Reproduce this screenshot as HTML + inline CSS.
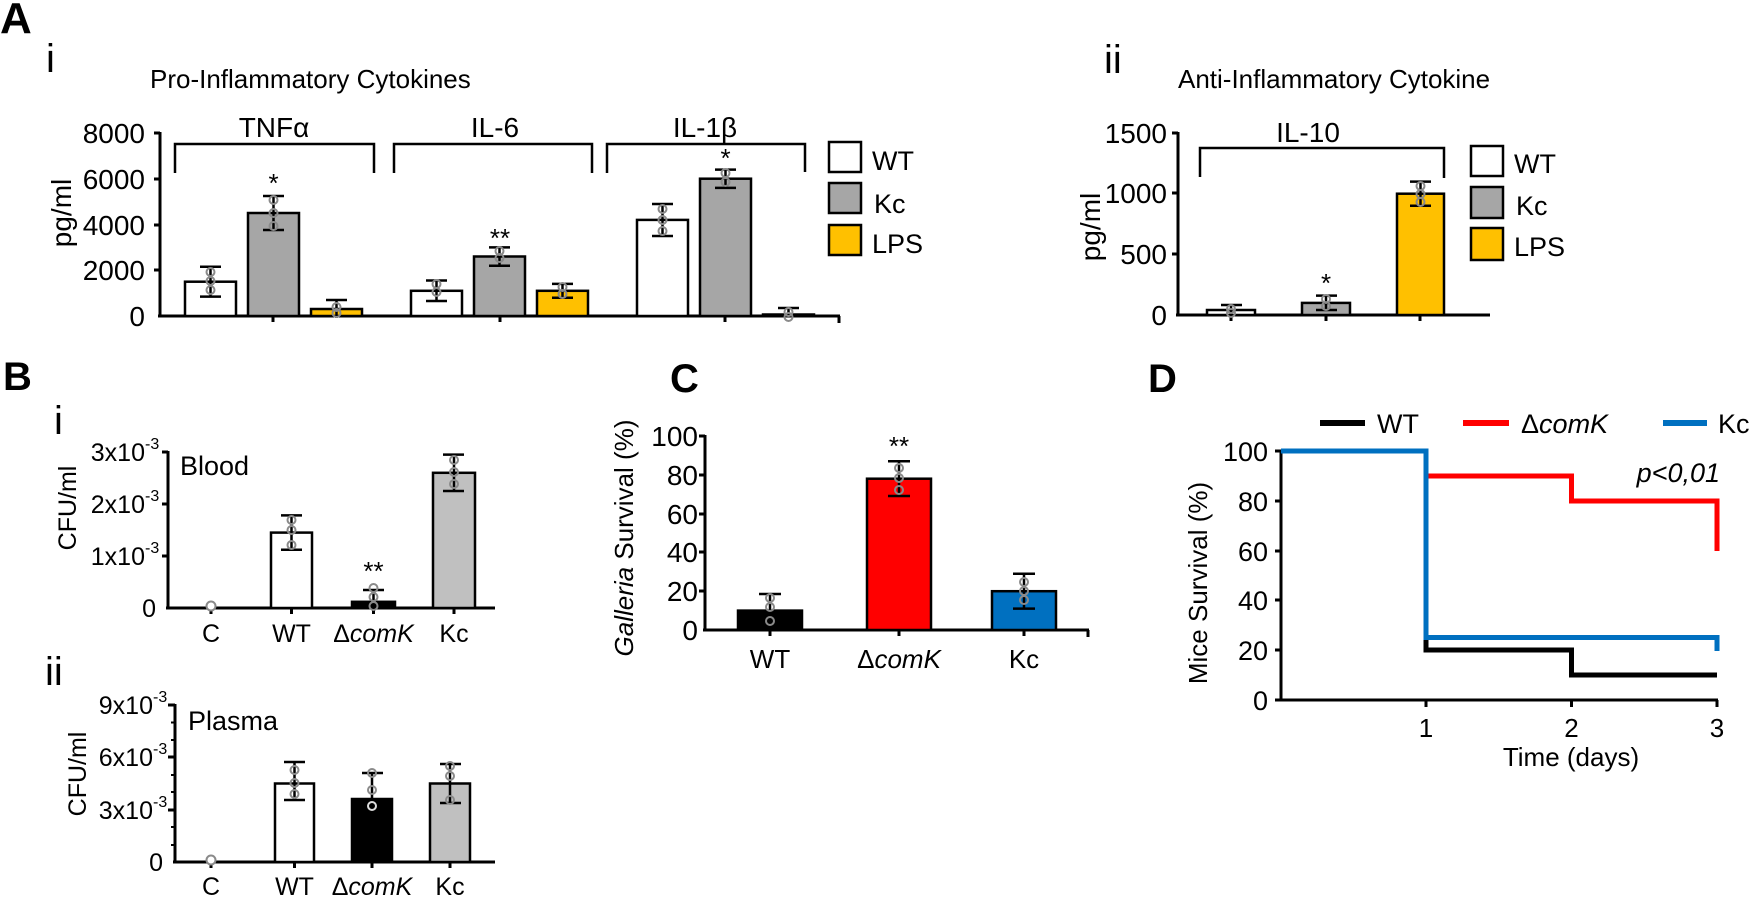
<!DOCTYPE html>
<html><head><meta charset="utf-8"><style>
html,body{margin:0;padding:0;background:#fff}
svg{display:block}
text{font-family:"Liberation Sans",Arial,sans-serif;fill:#000}
</style></head><body>
<svg width="1750" height="898" viewBox="0 0 1750 898" xmlns="http://www.w3.org/2000/svg">
<!-- ===== Panel A i ===== -->
<text x="0" y="33" font-size="44" font-weight="bold">A</text>
<text x="46" y="72" font-size="40">i</text>
<text x="150" y="88" font-size="26">Pro-Inflammatory Cytokines</text>
<g stroke="#000" stroke-width="3" fill="none">
<line x1="160" y1="132" x2="160" y2="317"/>
<line x1="158" y1="316" x2="840" y2="316"/>
<line x1="154" y1="133" x2="160" y2="133"/><line x1="154" y1="179" x2="160" y2="179"/><line x1="154" y1="225" x2="160" y2="225"/><line x1="154" y1="270" x2="160" y2="270"/>
<line x1="273" y1="316" x2="273" y2="322"/><line x1="500" y1="316" x2="500" y2="322"/><line x1="725" y1="316" x2="725" y2="322"/><line x1="839" y1="316" x2="839" y2="323"/>
</g>
<g font-size="28" text-anchor="end">
<text x="145" y="143">8000</text><text x="145" y="189">6000</text><text x="145" y="235">4000</text><text x="145" y="280">2000</text><text x="145" y="326">0</text>
</g>
<text transform="translate(71,213) rotate(-90)" font-size="28" text-anchor="middle">pg/ml</text>
<!-- brackets -->
<g stroke="#000" stroke-width="2.5" fill="none">
<polyline points="175,173 175,144 374,144 374,173"/>
<polyline points="394,173 394,144 592,144 592,173"/>
<polyline points="607,173 607,144 805,144 805,172"/>
</g>
<g font-size="28" text-anchor="middle">
<text x="274" y="137">TNFα</text><text x="495" y="137">IL-6</text><text x="705" y="137">IL-1β</text>
</g>
<!-- bars -->
<g stroke="#000" stroke-width="2.5">
<rect x="185" y="281.7" width="51" height="34.3" fill="#fff"/>
<rect x="248" y="213" width="51" height="103" fill="#a6a6a6"/>
<rect x="311" y="309" width="51" height="7" fill="#ffc000"/>
<rect x="411" y="290.8" width="51" height="25.2" fill="#fff"/>
<rect x="474" y="256.5" width="51" height="59.5" fill="#a6a6a6"/>
<rect x="537" y="290.8" width="51" height="25.2" fill="#ffc000"/>
<rect x="637" y="219.9" width="51" height="96.1" fill="#fff"/>
<rect x="700" y="178.7" width="51" height="137.3" fill="#a6a6a6"/>
<rect x="763" y="314.5" width="51" height="1.5" fill="#ffc000"/>
</g>
<!-- error bars -->
<g stroke="#000" stroke-width="2.5" fill="none">
<path d="M210.5 266.8V296.6M200 266.8h21M200 296.6h21"/>
<path d="M273.5 196V230M263 196h21M263 230h21"/>
<path d="M336.5 300V318M326 300h21"/>
<path d="M436.5 280.5V301M426 280.5h21M426 301h21"/>
<path d="M499.5 247.4V265.7M489 247.4h21M489 265.7h21"/>
<path d="M562.5 283.9V297.7M552 283.9h21M552 297.7h21"/>
<path d="M662.5 204V236M652 204h21M652 236h21"/>
<path d="M725.5 169.6V187.9M715 169.6h21M715 187.9h21"/>
<path d="M788.5 308V316M778 308h21"/>
</g>
<g stroke="#8a8a8a" stroke-width="2" fill="none">
<circle cx="210.5" cy="272" r="4"/><circle cx="210.5" cy="281" r="4"/><circle cx="210.5" cy="290" r="4"/>
<circle cx="273.5" cy="200" r="4"/><circle cx="273.5" cy="213" r="4"/><circle cx="273.5" cy="226" r="4"/>
<circle cx="336.5" cy="307" r="4"/><circle cx="336.5" cy="313" r="4"/>
<circle cx="436.5" cy="284" r="4"/><circle cx="436.5" cy="292" r="4"/>
<circle cx="499.5" cy="251" r="4"/><circle cx="499.5" cy="258" r="4"/>
<circle cx="562.5" cy="287" r="4"/><circle cx="562.5" cy="294" r="4"/>
<circle cx="662.5" cy="209" r="4"/><circle cx="662.5" cy="220" r="4"/><circle cx="662.5" cy="231" r="4"/>
<circle cx="725.5" cy="173" r="4"/><circle cx="725.5" cy="182" r="4"/>
<circle cx="788.5" cy="312" r="4"/><circle cx="788.5" cy="317" r="4"/>
</g>
<g font-size="26" text-anchor="middle">
<text x="273.5" y="192">*</text><text x="500" y="247">**</text><text x="725.5" y="167">*</text>
</g>
<!-- legend A i -->
<g stroke="#000" stroke-width="2.5">
<rect x="829" y="142" width="32" height="30" fill="#fff"/>
<rect x="829" y="183" width="32" height="30" fill="#a6a6a6"/>
<rect x="829" y="225" width="32" height="30" fill="#ffc000"/>
</g>
<g font-size="27"><text x="872" y="170">WT</text><text x="874" y="213">Kc</text><text x="872" y="253">LPS</text></g>

<!-- ===== Panel A ii ===== -->
<text x="1104" y="73" font-size="40">ii</text>
<text x="1178" y="88" font-size="26">Anti-Inflammatory Cytokine</text>
<g stroke="#000" stroke-width="3" fill="none">
<line x1="1178" y1="132" x2="1178" y2="316"/>
<line x1="1176" y1="315" x2="1490" y2="315"/>
<line x1="1172" y1="133" x2="1178" y2="133"/><line x1="1172" y1="193" x2="1178" y2="193"/><line x1="1172" y1="254" x2="1178" y2="254"/>
<line x1="1231" y1="315" x2="1231" y2="321"/><line x1="1326" y1="315" x2="1326" y2="321"/><line x1="1420" y1="315" x2="1420" y2="321"/>
</g>
<g font-size="28" text-anchor="end">
<text x="1167" y="143">1500</text><text x="1167" y="203">1000</text><text x="1167" y="264">500</text><text x="1167" y="325">0</text>
</g>
<text transform="translate(1100,227) rotate(-90)" font-size="28" text-anchor="middle">pg/ml</text>
<polyline points="1200,177 1200,148 1444,148 1444,178" stroke="#000" stroke-width="2.5" fill="none"/>
<text x="1308" y="142" font-size="28" text-anchor="middle">IL-10</text>
<g stroke="#000" stroke-width="2.5">
<rect x="1207" y="310" width="48" height="5" fill="#fff"/>
<rect x="1302" y="302.9" width="48" height="12.1" fill="#a6a6a6"/>
<rect x="1397" y="193.7" width="47" height="121.3" fill="#ffc000"/>
</g>
<g stroke="#000" stroke-width="2.5" fill="none">
<path d="M1231 305V315M1221 305h21"/>
<path d="M1326 295.6V310M1316 295.6h21M1316 310h21"/>
<path d="M1420.5 181.6V205.8M1410 181.6h21M1410 205.8h21"/>
</g>
<g stroke="#8a8a8a" stroke-width="2" fill="none">
<circle cx="1231" cy="309" r="4"/><circle cx="1231" cy="313" r="4"/>
<circle cx="1326" cy="299" r="4"/><circle cx="1326" cy="306" r="4"/>
<circle cx="1420.5" cy="186" r="4"/><circle cx="1420.5" cy="194" r="4"/><circle cx="1420.5" cy="202" r="4"/>
</g>
<text x="1326" y="292" font-size="26" text-anchor="middle">*</text>
<g stroke="#000" stroke-width="2.5">
<rect x="1471" y="146" width="32" height="30" fill="#fff"/>
<rect x="1471" y="187" width="32" height="31" fill="#a6a6a6"/>
<rect x="1471" y="228" width="32" height="32" fill="#ffc000"/>
</g>
<g font-size="27"><text x="1514" y="173">WT</text><text x="1516" y="215">Kc</text><text x="1514" y="256">LPS</text></g>

<!-- ===== Panel B ===== -->
<text x="3" y="390" font-size="40" font-weight="bold">B</text>
<text x="54" y="434" font-size="40">i</text>
<text x="45" y="685" font-size="40">ii</text>
<!-- Blood -->
<g stroke="#000" stroke-width="3" fill="none">
<line x1="168" y1="451" x2="168" y2="609"/>
<line x1="166" y1="608" x2="495" y2="608"/>
<line x1="162" y1="452" x2="168" y2="452"/><line x1="162" y1="504" x2="168" y2="504"/><line x1="162" y1="556" x2="168" y2="556"/>
<line x1="211" y1="608" x2="211" y2="614"/><line x1="291.5" y1="608" x2="291.5" y2="614"/><line x1="373.5" y1="608" x2="373.5" y2="614"/><line x1="454" y1="608" x2="454" y2="614"/>
</g>
<g font-size="25" text-anchor="end">
<text x="145" y="461">3x10</text><text x="145" y="513">2x10</text><text x="145" y="565">1x10</text><text x="156" y="617">0</text>
</g>
<g font-size="16"><text x="145" y="449">-3</text><text x="145" y="501">-3</text><text x="145" y="553">-3</text></g>
<text transform="translate(76,508) rotate(-90)" font-size="25" text-anchor="middle">CFU/ml</text>
<text x="180" y="475" font-size="27">Blood</text>
<g stroke="#000" stroke-width="2.5">
<rect x="271" y="532.6" width="41" height="75.4" fill="#fff"/>
<rect x="352" y="601.8" width="43" height="6.2" fill="#000"/>
<rect x="433" y="472.8" width="42" height="135.2" fill="#c0c0c0"/>
</g>
<g stroke="#000" stroke-width="2.5" fill="none">
<path d="M291.5 515.4V549.7M281 515.4h21M281 549.7h21"/>
<path d="M373.5 590V608M363 590h21"/>
<path d="M454 454.6V491M443 454.6h21M443 491h21"/>
</g>
<g stroke="#8a8a8a" stroke-width="2" fill="none">
<circle cx="211" cy="606" r="4.5" fill="#fff"/>
<circle cx="291.5" cy="520" r="4"/><circle cx="291.5" cy="530" r="4"/><circle cx="291.5" cy="545" r="4"/>
<circle cx="373.5" cy="588" r="4"/><circle cx="373.5" cy="597" r="4"/><circle cx="373.5" cy="606" r="4"/>
<circle cx="454" cy="460" r="4"/><circle cx="454" cy="472" r="4"/><circle cx="454" cy="484" r="4"/>
</g>
<text x="373.5" y="580" font-size="26" text-anchor="middle">**</text>
<g font-size="25" text-anchor="middle">
<text x="211" y="642">C</text><text x="291.5" y="642">WT</text><text x="373.5" y="642">Δ<tspan font-style="italic">comK</tspan></text><text x="454" y="642">Kc</text>
</g>
<!-- Plasma -->
<g stroke="#000" stroke-width="3" fill="none">
<line x1="175" y1="704" x2="175" y2="863"/>
<line x1="173" y1="862" x2="495" y2="862"/>
<line x1="168" y1="705" x2="175" y2="705"/><line x1="168" y1="757" x2="175" y2="757"/><line x1="168" y1="810" x2="175" y2="810"/>
<line x1="211" y1="862" x2="211" y2="868"/><line x1="294.5" y1="862" x2="294.5" y2="868"/><line x1="372" y1="862" x2="372" y2="868"/><line x1="450" y1="862" x2="450" y2="868"/>
</g>
<g stroke="#000" stroke-width="2">
<line x1="171" y1="722.5" x2="175" y2="722.5"/><line x1="171" y1="740" x2="175" y2="740"/>
<line x1="171" y1="775" x2="175" y2="775"/><line x1="171" y1="792" x2="175" y2="792"/>
<line x1="171" y1="827" x2="175" y2="827"/><line x1="171" y1="845" x2="175" y2="845"/>
</g>
<g font-size="25" text-anchor="end">
<text x="153" y="714">9x10</text><text x="153" y="766">6x10</text><text x="153" y="819">3x10</text><text x="163" y="871">0</text>
</g>
<g font-size="16"><text x="153" y="702">-3</text><text x="153" y="754">-3</text><text x="153" y="807">-3</text></g>
<text transform="translate(86,774) rotate(-90)" font-size="25" text-anchor="middle">CFU/ml</text>
<text x="188" y="730" font-size="27">Plasma</text>
<g stroke="#000" stroke-width="2.5">
<rect x="275" y="783.5" width="39" height="78.5" fill="#fff"/>
<rect x="352" y="799" width="40" height="63" fill="#000"/>
<rect x="430" y="783.5" width="40" height="78.5" fill="#c0c0c0"/>
</g>
<g stroke="#000" stroke-width="2.5" fill="none">
<path d="M294.5 762V800M284 762h21M284 800h21"/>
<path d="M372 773V799M362 773h21"/>
<path d="M450 764V803M440 764h21M440 803h21"/>
</g>
<g stroke="#8a8a8a" stroke-width="2" fill="none">
<circle cx="350" cy="860" r="4.5" fill="#fff" transform="translate(-139,0)"/>
<circle cx="294.5" cy="770" r="4"/><circle cx="294.5" cy="783" r="4"/><circle cx="294.5" cy="794" r="4"/>
<circle cx="372" cy="773" r="4"/><circle cx="372" cy="790" r="4"/><circle cx="372" cy="806" r="4" stroke="#ddd"/>
<circle cx="450" cy="766" r="4"/><circle cx="450" cy="776" r="4"/><circle cx="450" cy="800" r="4"/>
</g>
<g font-size="25" text-anchor="middle">
<text x="211" y="895">C</text><text x="294.5" y="895">WT</text><text x="372" y="895">Δ<tspan font-style="italic">comK</tspan></text><text x="450" y="895">Kc</text>
</g>

<!-- ===== Panel C ===== -->
<text x="670" y="392" font-size="40" font-weight="bold">C</text>
<g stroke="#000" stroke-width="3" fill="none">
<line x1="705" y1="435" x2="705" y2="631"/>
<line x1="703" y1="630" x2="1089" y2="630"/>
<line x1="699" y1="436" x2="705" y2="436"/><line x1="699" y1="475" x2="705" y2="475"/><line x1="699" y1="514" x2="705" y2="514"/><line x1="699" y1="552" x2="705" y2="552"/><line x1="699" y1="591" x2="705" y2="591"/>
<line x1="770" y1="630" x2="770" y2="636"/><line x1="899" y1="630" x2="899" y2="636"/><line x1="1024" y1="630" x2="1024" y2="636"/><line x1="1088" y1="630" x2="1088" y2="637"/>
</g>
<g font-size="28" text-anchor="end">
<text x="698" y="446">100</text><text x="698" y="485">80</text><text x="698" y="524">60</text><text x="698" y="562">40</text><text x="698" y="601">20</text><text x="698" y="640">0</text>
</g>
<text transform="translate(633,538) rotate(-90)" font-size="26" text-anchor="middle"><tspan font-style="italic">Galleria</tspan> Survival (%)</text>
<g stroke="#000" stroke-width="2.5">
<rect x="738" y="610.6" width="64" height="19.4" fill="#000"/>
<rect x="867" y="478.7" width="64" height="151.3" fill="#ff0000"/>
<rect x="992" y="591.2" width="64" height="38.8" fill="#0070c0"/>
</g>
<g stroke="#000" stroke-width="2.5" fill="none">
<path d="M770 594V610M759 594h22"/>
<path d="M899 461.3V496M888 461.3h22M888 496h22"/>
<path d="M1024 573.7V608.6M1013 573.7h22M1013 608.6h22"/>
</g>
<g stroke="#8a8a8a" stroke-width="2" fill="none">
<circle cx="770" cy="598" r="4"/><circle cx="770" cy="607" r="4"/><circle cx="770" cy="621" r="4"/>
<circle cx="899" cy="468" r="4"/><circle cx="899" cy="478" r="4"/><circle cx="899" cy="490" r="4"/>
<circle cx="1024" cy="582" r="4"/><circle cx="1024" cy="591" r="4"/><circle cx="1024" cy="600" r="4"/>
</g>
<text x="899" y="455" font-size="26" text-anchor="middle">**</text>
<g font-size="26" text-anchor="middle">
<text x="770" y="668">WT</text><text x="899" y="668">Δ<tspan font-style="italic">comK</tspan></text><text x="1024" y="668">Kc</text>
</g>

<!-- ===== Panel D ===== -->
<text x="1148" y="392" font-size="40" font-weight="bold">D</text>
<g stroke-width="6">
<line x1="1320" y1="423" x2="1365" y2="423" stroke="#000"/>
<line x1="1463" y1="423" x2="1509" y2="423" stroke="#ff0000"/>
<line x1="1663" y1="423" x2="1707" y2="423" stroke="#0070c0"/>
</g>
<g font-size="27">
<text x="1377" y="433">WT</text>
<text x="1521" y="433">Δ<tspan font-style="italic">comK</tspan></text>
<text x="1718" y="433">Kc</text>
</g>
<g stroke="#000" stroke-width="3" fill="none">
<line x1="1281" y1="450" x2="1281" y2="701"/>
<line x1="1279" y1="700" x2="1718" y2="700"/>
<line x1="1275" y1="451" x2="1281" y2="451"/><line x1="1275" y1="501" x2="1281" y2="501"/><line x1="1275" y1="551" x2="1281" y2="551"/><line x1="1275" y1="600" x2="1281" y2="600"/><line x1="1275" y1="650" x2="1281" y2="650"/><line x1="1275" y1="700" x2="1281" y2="700"/>
<line x1="1426" y1="700" x2="1426" y2="707"/><line x1="1571.5" y1="700" x2="1571.5" y2="707"/><line x1="1717" y1="700" x2="1717" y2="707"/>
</g>
<g font-size="27" text-anchor="end">
<text x="1268" y="461">100</text><text x="1268" y="511">80</text><text x="1268" y="561">60</text><text x="1268" y="610">40</text><text x="1268" y="660">20</text><text x="1268" y="710">0</text>
</g>
<text transform="translate(1207,583) rotate(-90)" font-size="26" text-anchor="middle">Mice Survival (%)</text>
<g font-size="26" text-anchor="middle">
<text x="1426" y="737">1</text><text x="1571.5" y="737">2</text><text x="1717" y="737">3</text>
<text x="1571" y="766">Time (days)</text>
</g>
<g fill="none" stroke-width="5">
<path d="M1426 637V650H1571.5V675H1717" stroke="#000"/>
<path d="M1426 476H1571.5V501H1717V551" stroke="#ff0000"/>
<path d="M1281 451H1426V637.5H1717V651" stroke="#0070c0"/>
</g>
<text x="1720" y="482" font-size="27" font-style="italic" text-anchor="end">p&lt;0,01</text>
</svg>
</body></html>
